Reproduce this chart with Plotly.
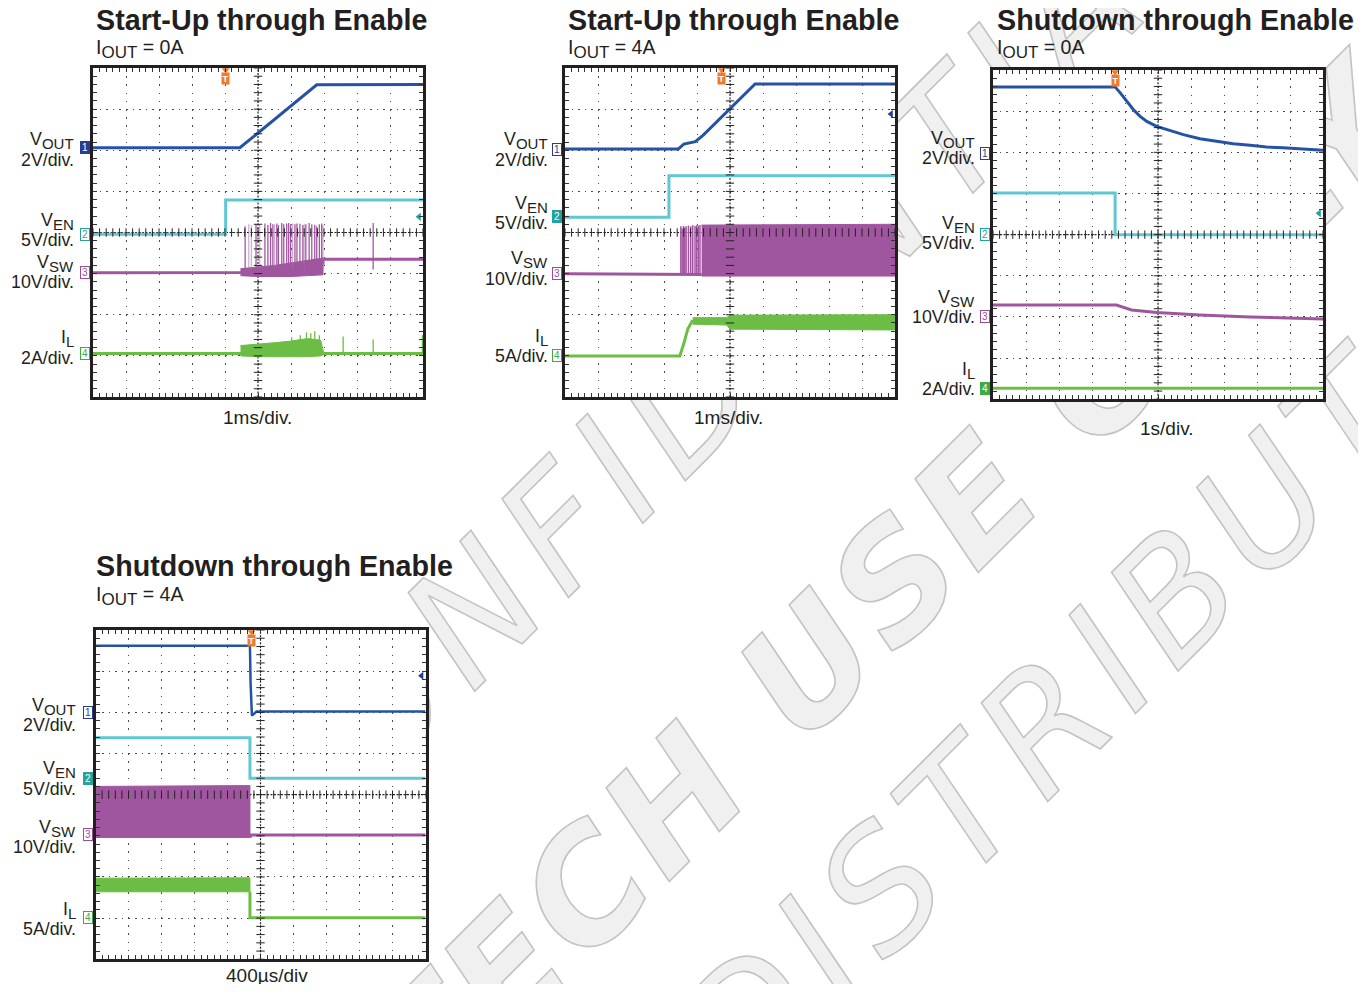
import numpy as np
import plotly.graph_objects as go

# page body keeps an 8px margin, so the figure is 16px smaller than the window
OFF = 8
W, H = 1366 - 2 * OFF, 992 - 2 * OFF
FONT = "Liberation Sans, Arial, Helvetica, sans-serif"
WM_FONT = "DejaVu Sans, Liberation Sans, sans-serif"

# ---------------- chart text ----------------
TITLES = ["Start-Up through Enable", "Start-Up through Enable",
          "Shutdown through Enable", "Shutdown through Enable"]
SUBTITLES = ["0A", "4A", "0A", "4A"]
TIMEBASES = ["1ms/div.", "1ms/div.", "1s/div.", "400µs/div"]
CH_NAMES = ['V<sub><span style="font-size:15px">OUT</span></sub>',
            'V<sub><span style="font-size:15px">EN</span></sub>',
            'V<sub><span style="font-size:15px">SW</span></sub>',
            'I<sub><span style="font-size:15px">L</span></sub>']
CH_SCALES = [["2V/div.", "5V/div.", "10V/div.", "2A/div."],
             ["2V/div.", "5V/div.", "10V/div.", "5A/div."],
             ["2V/div.", "5V/div.", "10V/div.", "2A/div."],
             ["2V/div.", "5V/div.", "10V/div.", "5A/div."]]
WATERMARK = ["CONFIDENTIAL", "TECH USE ONLY", "DO NOT DISTRIBUTE"]

# ---------------- data (scope screen divisions: x 0..10, y 0..8) ----------------
CH_GROUND = [[6.06, 3.96, 3.02, 1.06],
             [6.03, 4.39, 3.00, 1.00],
             [5.98, 4.00, 2.01, 0.27],
             [6.00, 4.40, 3.02, 1.01]]
TRIGGER_X = [4.02, 4.75, 3.70, 4.73]
TRIG_LEVEL = [4.38, 6.88, 4.52, 6.89]
TRIG_LEVEL_CH = [1, 0, 1, 0]

# Panel 1 : start-up, IOUT = 0A
P1_VOUT_X = [0, 4.45, 6.78, 10]
P1_VOUT_Y = [6.06, 6.06, 7.59, 7.60]
P1_VEN_X = [0, 4.02, 4.02, 10]
P1_VEN_Y = [3.96, 3.96, 4.79, 4.79]
P1_VSW_X = [0, 4.47, 6.97, 6.97, 10]
P1_VSW_Y = [3.02, 3.03, 3.25, 3.35, 3.35]
P1_VSW_BAND_X = [4.47, 5.0, 5.5, 6.0, 6.5, 6.97]
P1_VSW_BAND_TOP = [3.12, 3.16, 3.20, 3.26, 3.32, 3.38]
P1_VSW_BAND_BOT = [2.95, 2.93, 2.93, 2.93, 2.95, 2.97]
P1_VSW_SPIKE_X = [4.61, 4.94, 5.21, 5.30, 5.38, 5.45, 5.57, 5.62, 5.72, 5.78, 5.87,
                  5.93, 5.99, 6.12, 6.18, 6.27, 6.36, 6.45, 6.55, 6.63, 6.72, 6.78,
                  6.86, 6.93, 8.49]
P1_VSW_SPIKE_TOP = [4.15, 4.20, 4.22, 4.18, 4.23, 4.20, 4.22, 4.18, 4.23, 4.20, 4.22,
                    4.23, 4.20, 4.20, 4.22, 4.21, 4.18, 4.20, 4.23, 4.20, 4.19, 4.15,
                    4.20, 4.22, 4.23]
P1_VSW_LIGHT_X = [4.72, 4.80, 5.05, 5.50, 6.05, 6.40, 6.97]
P1_VSW_LIGHT_TOP = [4.20, 4.18, 4.20, 4.20, 4.22, 4.20, 4.18]
P1_IL_X = [0, 10]
P1_IL_Y = [1.06, 1.06]
P1_IL_BAND_X = [4.47, 5.0, 5.5, 6.0, 6.5, 6.9, 7.0]
P1_IL_BAND_TOP = [1.25, 1.28, 1.32, 1.36, 1.42, 1.38, 1.10]
P1_IL_BAND_BOT = [1.00, 0.98, 0.98, 0.98, 0.98, 1.00, 1.04]
P1_IL_SPIKE_X = [6.02, 6.28, 6.47, 6.60, 6.72, 6.86, 7.58, 8.49, 9.98]
P1_IL_SPIKE_TOP = [1.45, 1.50, 1.57, 1.55, 1.60, 1.50, 1.47, 1.40, 1.50]

# Panel 2 : start-up, IOUT = 4A
P2_VOUT_X = [0, 3.43, 3.60, 3.95, 4.19, 5.76, 10]
P2_VOUT_Y = [6.03, 6.03, 6.15, 6.21, 6.37, 7.61, 7.61]
P2_VEN_X = [0, 3.15, 3.15, 10]
P2_VEN_Y = [4.37, 4.37, 5.38, 5.38]
P2_VSW_X = [0, 4.14]
P2_VSW_Y = [3.00, 2.98]
P2_VSW_BAND_X = [4.14, 10]
P2_VSW_BAND_TOP = [4.18, 4.20]
P2_VSW_BAND_BOT = [2.94, 2.94]
P2_VSW_SPIKE_X = [3.51, 3.55, 3.59, 3.63, 3.67, 3.74, 3.81, 3.87, 3.94, 3.99, 4.04, 4.09]
P2_VSW_SPIKE_TOP = [4.15, 4.10, 4.16, 4.12, 4.15, 4.17, 4.15, 4.18, 4.16, 4.18, 4.17, 4.18]
P2_IL_X = [0, 3.48, 3.60, 3.72, 3.87]
P2_IL_Y = [1.00, 1.00, 1.30, 1.65, 1.87]
P2_IL_BAND_X = [3.87, 4.90, 5.00, 10]
P2_IL_BAND_TOP = [1.93, 1.93, 1.99, 2.00]
P2_IL_BAND_BOT = [1.77, 1.75, 1.65, 1.63]

# Panel 3 : shutdown, IOUT = 0A
P3_VOUT_X = [0, 3.70, 3.85, 4.05, 4.25, 4.45, 4.66, 4.96, 5.27, 5.77, 6.27, 6.78,
             7.28, 7.79, 8.29, 8.79, 9.30, 10.0]
P3_VOUT_Y = [7.59, 7.59, 7.45, 7.24, 7.04, 6.88, 6.75, 6.63, 6.55, 6.43, 6.33, 6.27,
             6.21, 6.17, 6.13, 6.11, 6.08, 6.05]
P3_VEN_X = [0, 3.70, 3.70, 10]
P3_VEN_Y = [5.01, 5.01, 4.00, 4.00]
P3_VSW_X = [0, 3.74, 4.20, 4.96, 6.27, 7.79, 10]
P3_VSW_Y = [2.29, 2.29, 2.17, 2.11, 2.05, 2.00, 1.95]
P3_IL_X = [0, 10]
P3_IL_Y = [0.27, 0.27]

# Panel 4 : shutdown, IOUT = 4A
P4_VOUT_X = [0, 4.68, 4.70, 4.74, 4.88, 10]
P4_VOUT_Y = [7.62, 7.62, 6.70, 5.92, 6.02, 6.02]
P4_VEN_X = [0, 4.68, 4.68, 10]
P4_VEN_Y = [5.38, 5.38, 4.40, 4.40]
P4_VSW_X = [4.68, 4.72, 10]
P4_VSW_Y = [2.96, 3.02, 3.02]
P4_VSW_BAND_X = [0, 4.68]
P4_VSW_BAND_TOP = [4.20, 4.22]
P4_VSW_BAND_BOT = [2.96, 2.96]
P4_IL_X = [4.68, 4.68, 10]
P4_IL_Y = [1.64, 1.01, 1.01]
P4_IL_BAND_X = [0, 4.68]
P4_IL_BAND_TOP = [1.97, 1.98]
P4_IL_BAND_BOT = [1.64, 1.64]

# ---------------- layout / style (window pixel coordinates) ----------------
PANELS = [(93, 68, 423, 397), (565, 68, 895, 397),
          (993, 70, 1323, 399.3), (95.5, 630, 425.5, 959.3)]
TITLE_POS = [(94, 20), (566, 20), (995, 20), (94, 566)]
SUB_POS = [(94, 49), (566, 49), (995, 49), (94, 596)]
XLAB_POS = [(257, 417), (728, 417), (1167, 428), (267, 975)]
LABEL_CENTER = [[6.00, 4.04, 3.02, 1.19], [6.00, 4.45, 3.11, 1.22],
                [6.09, 4.02, 2.22, 0.47], [5.92, 4.37, 2.95, 0.96]]
LABEL_OFFSET = [-17, -15, -16, -18]
CH_COLORS = ["#2453a6", "#62c6d3", "#a0569f", "#6cbd45"]
MARK_COLORS = ["#2b3c90", "#25a29d", "#9c4b9f", "#3aab48"]
MARK_FILLED = [[True, False, False, False], [False, True, False, False],
               [False, False, False, True], [False, True, False, False]]
ORANGE = "#f07a2a"
# (centre x, centre y, bold, font size, letter spacing)
WM_POS = [(712, 360, False, 160, 13), (881, 580, True, 152, 6),
          (805, 950, False, 160, 13)]


def pxx(x):
    return (x - OFF) / W


def pxy(y):
    return 1 - (y - OFF) / H


def xid(n):
    return "x" if n == 1 else f"x{n}"


def yid(n):
    return "y" if n == 1 else f"y{n}"


fig = go.Figure()

# watermark (below the panels)
for text, (cx, cy, bold, size, ls) in zip(WATERMARK, WM_POS):
    t = ('<i><span style="stroke:#c3c3c3;stroke-width:1.6px;letter-spacing:%dpx">' % ls
         + text + '</span></i>')
    if bold:
        t = "<b>" + t + "</b>"
    fig.add_shape(type="rect", xref="paper", yref="paper",
                  x0=pxx(cx - 1), x1=pxx(cx + 1), y0=pxy(cy + 1), y1=pxy(cy - 1),
                  line=dict(width=0), fillcolor="rgba(0,0,0,0)", layer="below",
                  label=dict(text=t, textangle=-45, textposition="middle center",
                             font=dict(size=size, color="#f0f0f0", family=WM_FONT)))

# white plot backgrounds above watermark
for (l, t, r, b) in PANELS:
    fig.add_shape(type="rect", xref="paper", yref="paper",
                  x0=pxx(l), x1=pxx(r), y0=pxy(b), y1=pxy(t),
                  line=dict(width=0), fillcolor="white", layer="below")


def line_trace(n, x, y, color, width=3.0):
    fig.add_trace(go.Scatter(x=x, y=y, mode="lines", line=dict(color=color, width=width),
                             xaxis=xid(n), yaxis=yid(n), hoverinfo="skip",
                             showlegend=False))


def band_trace(n, x, top, bot, color):
    fig.add_trace(go.Scatter(x=list(x) + list(x)[::-1], y=list(top) + list(bot)[::-1],
                             mode="lines", fill="toself", fillcolor=color,
                             line=dict(color=color, width=1), xaxis=xid(n),
                             yaxis=yid(n), hoverinfo="skip", showlegend=False))


def spike_trace(n, x, top, base, color, width=1.3):
    xs, ys = [], []
    for xi, ti in zip(x, top):
        xs += [xi, xi, None]
        ys += [base, ti, None]
    line_trace(n, xs, ys, color, width)


BLUE, CYAN, PURPLE, GREEN = CH_COLORS
LIGHT_PURPLE = "rgba(170,110,175,0.55)"

# panel 1
band_trace(1, P1_IL_BAND_X, P1_IL_BAND_TOP, P1_IL_BAND_BOT, GREEN)
line_trace(1, P1_IL_X, P1_IL_Y, GREEN)
spike_trace(1, P1_IL_SPIKE_X, P1_IL_SPIKE_TOP, 1.05, GREEN)
band_trace(1, P1_VSW_BAND_X, P1_VSW_BAND_TOP, P1_VSW_BAND_BOT, PURPLE)
line_trace(1, P1_VSW_X, P1_VSW_Y, PURPLE)
spike_trace(1, P1_VSW_LIGHT_X, P1_VSW_LIGHT_TOP, 3.1, LIGHT_PURPLE)
spike_trace(1, P1_VSW_SPIKE_X, P1_VSW_SPIKE_TOP, 3.1, PURPLE)
line_trace(1, P1_VEN_X, P1_VEN_Y, CYAN)
line_trace(1, P1_VOUT_X, P1_VOUT_Y, BLUE)

# panel 2
line_trace(2, P2_IL_X, P2_IL_Y, GREEN)
band_trace(2, P2_IL_BAND_X, P2_IL_BAND_TOP, P2_IL_BAND_BOT, GREEN)
line_trace(2, P2_VSW_X, P2_VSW_Y, PURPLE)
spike_trace(2, P2_VSW_SPIKE_X, P2_VSW_SPIKE_TOP, 2.97, PURPLE, 1.5)
band_trace(2, P2_VSW_BAND_X, P2_VSW_BAND_TOP, P2_VSW_BAND_BOT, PURPLE)
line_trace(2, P2_VEN_X, P2_VEN_Y, CYAN)
line_trace(2, P2_VOUT_X, P2_VOUT_Y, BLUE)

# panel 3
line_trace(3, P3_IL_X, P3_IL_Y, GREEN)
line_trace(3, P3_VSW_X, P3_VSW_Y, PURPLE)
line_trace(3, P3_VEN_X, P3_VEN_Y, CYAN)
line_trace(3, P3_VOUT_X, P3_VOUT_Y, BLUE)

# panel 4
band_trace(4, P4_IL_BAND_X, P4_IL_BAND_TOP, P4_IL_BAND_BOT, GREEN)
line_trace(4, P4_IL_X, P4_IL_Y, GREEN)
band_trace(4, P4_VSW_BAND_X, P4_VSW_BAND_TOP, P4_VSW_BAND_BOT, PURPLE)
line_trace(4, P4_VSW_X, P4_VSW_Y, PURPLE)
line_trace(4, P4_VEN_X, P4_VEN_Y, CYAN)
line_trace(4, P4_VOUT_X, P4_VOUT_Y, BLUE, 2.5)

annotations = []
XT = list(np.round(np.arange(0, 10.001, 0.2), 2))
YT = list(np.round(np.arange(0, 8.001, 0.2), 2))

for i, (l, t, r, b) in enumerate(PANELS):
    n = i + 1
    xa, ya = xid(n), yid(n)
    ax = dict(domain=[pxx(l), pxx(r)], range=[0, 10], anchor=ya,
              showgrid=True, gridcolor="#4a4a4a", gridwidth=1, griddash="1.5px,6.7px",
              zeroline=False, showline=True, linecolor="#231f20", linewidth=3,
              mirror="allticks", ticks="inside", ticklen=4, tickwidth=1,
              tickcolor="#333", dtick=1, tick0=0, showticklabels=False,
              minor=dict(dtick=0.2, tick0=0, ticks="inside", ticklen=4, tickwidth=1,
                         tickcolor="#333", showgrid=False),
              fixedrange=True)
    ay = dict(domain=[pxy(b), pxy(t)], range=[0, 8], anchor=xa,
              showgrid=True, gridcolor="#4a4a4a", gridwidth=1, griddash="1.5px,5.1px",
              zeroline=False, showline=True, linecolor="#231f20", linewidth=3,
              mirror="allticks", ticks="inside", ticklen=4, tickwidth=1,
              tickcolor="#333", dtick=1, tick0=0, showticklabels=False,
              minor=dict(dtick=0.2, tick0=0, ticks="inside", ticklen=4, tickwidth=1,
                         tickcolor="#333", showgrid=False),
              fixedrange=True)
    fig.update_layout({("xaxis" if n == 1 else f"xaxis{n}"): ax,
                       ("yaxis" if n == 1 else f"yaxis{n}"): ay})

    # centre graticule lines with tick marks
    fig.add_shape(type="line", xref=xa, yref=ya, x0=5, x1=5, y0=0, y1=8,
                  line=dict(color="#222", width=1.2, dash="2px,1.5px"), layer="between")
    fig.add_shape(type="line", xref=xa, yref=ya, x0=0, x1=10, y0=4, y1=4,
                  line=dict(color="#222", width=1.2, dash="2px,1.5px"), layer="between")
    fig.add_trace(go.Scatter(x=XT, y=[4] * len(XT), mode="markers",
                             marker=dict(symbol="line-ns", size=6,
                                         line=dict(color="#222", width=1)),
                             xaxis=xa, yaxis=ya, hoverinfo="skip",
                             showlegend=False))
    fig.add_trace(go.Scatter(x=[5] * len(YT), y=YT, mode="markers",
                             marker=dict(symbol="line-ew", size=6,
                                         line=dict(color="#222", width=1)),
                             xaxis=xa, yaxis=ya, hoverinfo="skip",
                             showlegend=False))

    # trigger marker
    fig.add_trace(go.Scatter(x=[TRIGGER_X[i]], y=[7.95], mode="markers",
                             marker=dict(symbol="triangle-down", size=7, color=ORANGE),
                             xaxis=xa, yaxis=ya, hoverinfo="skip",
                             showlegend=False, cliponaxis=False))
    annotations.append(dict(x=TRIGGER_X[i], y=7.74, xref=xa, yref=ya,
                            text="<b>T</b>", showarrow=False,
                            font=dict(size=9, color="white", family=FONT),
                            bgcolor=ORANGE, borderpad=0, width=7, height=11))
    # trigger level arrow
    c = MARK_COLORS[1] if TRIG_LEVEL_CH[i] == 1 else MARK_COLORS[0]
    fig.add_trace(go.Scatter(x=[9.88], y=[TRIG_LEVEL[i]], mode="markers",
                             marker=dict(symbol="triangle-left", size=7, color=c),
                             xaxis=xa, yaxis=ya, hoverinfo="skip",
                             showlegend=False))

    # channel markers + labels
    for k in range(4):
        filled = MARK_FILLED[i][k]
        mc = MARK_COLORS[k]
        annotations.append(dict(x=0, xref=xa + " domain", xanchor="right", xshift=-3,
                                y=CH_GROUND[i][k], yref=ya, yanchor="middle",
                                text=str(k + 1), showarrow=False,
                                font=dict(size=10, color="white" if filled else mc,
                                          family=FONT),
                                bgcolor=mc if filled else "white", bordercolor=mc,
                                borderwidth=1, borderpad=0, width=8, height=11))
        annotations.append(dict(x=0, xref=xa + " domain", xanchor="right",
                                xshift=LABEL_OFFSET[i],
                                y=LABEL_CENTER[i][k], yref=ya, yanchor="middle",
                                yshift=9.5, text=CH_NAMES[k], showarrow=False,
                                align="right",
                                font=dict(size=17.8, color="#231f20", family=FONT)))
        annotations.append(dict(x=0, xref=xa + " domain", xanchor="right",
                                xshift=LABEL_OFFSET[i],
                                y=LABEL_CENTER[i][k], yref=ya, yanchor="middle",
                                yshift=-9.5, text=CH_SCALES[i][k], showarrow=False,
                                align="right",
                                font=dict(size=17.8, color="#231f20", family=FONT)))

    # titles
    tx, ty = TITLE_POS[i]
    annotations.append(dict(x=pxx(tx), y=pxy(ty), xref="paper", yref="paper",
                            xanchor="left", yanchor="middle", showarrow=False,
                            text="<b>" + TITLES[i] + "</b>",
                            font=dict(size=28.7, color="#231f20", family=FONT)))
    sx, sy = SUB_POS[i]
    annotations.append(dict(x=pxx(sx), y=pxy(sy), xref="paper", yref="paper",
                            xanchor="left", yanchor="middle", showarrow=False,
                            text='I<sub><span style="font-size:17px">OUT</span></sub> = '
                                 + SUBTITLES[i],
                            font=dict(size=19.5, color="#231f20", family=FONT)))
    lx, ly = XLAB_POS[i]
    annotations.append(dict(x=pxx(lx), y=pxy(ly), xref="paper", yref="paper",
                            xanchor="center", yanchor="middle", showarrow=False,
                            text=TIMEBASES[i],
                            font=dict(size=19, color="#231f20", family=FONT)))

fig.update_layout(width=W, height=H, margin=dict(l=0, r=0, t=0, b=0),
                  paper_bgcolor="white", plot_bgcolor="white",
                  annotations=annotations, showlegend=False)

fig.write_html("out.html")
